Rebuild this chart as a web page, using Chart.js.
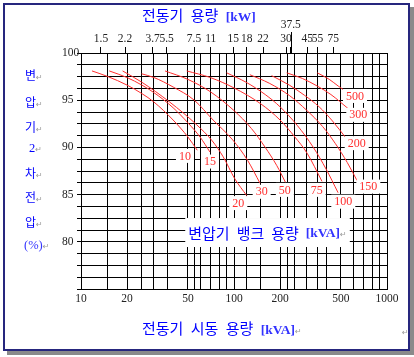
<!DOCTYPE html>
<html><head><meta charset="utf-8">
<script src="https://cdn.jsdelivr.net/npm/chart.js@4.4.1/dist/chart.umd.min.js"></script>
<style>
html,body{margin:0;padding:0;background:#fff;}
#wrap{position:relative;width:414px;height:357px;overflow:hidden;}
#frame{position:absolute;left:3px;top:3px;width:403px;height:344px;border:2px solid #26267e;box-shadow:4px 4px 0 #8a8a8a;background:#fff;}
#c{position:absolute;left:0;top:0;}
.t{position:absolute;white-space:nowrap;color:#0000ff;font-family:"Noto Sans CJK KR";font-size:15px;line-height:18px;word-spacing:4px;}
.en{font-family:"Liberation Serif";font-weight:bold;color:#3333ff;font-size:13.5px;word-spacing:0;}
.rt{color:#9a9a9a;font-family:"DejaVu Sans";font-size:8px;word-spacing:0;}
.v{position:absolute;white-space:nowrap;color:#0000ff;font-family:"Noto Sans CJK KR";font-size:12px;line-height:14px;}
.vs{font-family:"Liberation Serif";font-size:12.5px;}
</style></head>
<body><div id="wrap"><div id="frame"></div><canvas id="c" width="414" height="357"></canvas>
<div class="t" style="left:142px;top:6px">전동기 용량 <span class="en">[kW]</span></div>
<div class="t" style="left:142px;top:319px">전동기 시동 용량 <span class="en">[kVA]</span><span class="rt">↵</span></div>
<div class="v" style="left:25px;top:68px">변<span class="rt">↵</span></div>
<div class="v" style="left:25px;top:95px">압<span class="rt">↵</span></div>
<div class="v" style="left:25px;top:120px">기<span class="rt">↵</span></div>
<div class="v vs" style="left:29px;top:141px">2<span class="rt">↵</span></div>
<div class="v" style="left:25px;top:166px">차<span class="rt">↵</span></div>
<div class="v" style="left:25px;top:190px">전<span class="rt">↵</span></div>
<div class="v" style="left:25px;top:215px">압<span class="rt">↵</span></div>
<div class="v vs" style="left:24px;top:238px;color:#3333ff">(%)<span class="rt">↵</span></div>
<div style="position:absolute;left:402px;top:328px;color:#9a9a9a;font-family:'DejaVu Sans';font-size:8px;">↵</div>
</div>
<script>
// ---- axes / grid values ----
const kvaGrid = [10,15,20,25,30,37,50,55,60,70,80,90,100,120,150,200,225,250,300,350,400,500,600,700,800,900,1000];
const kvaTickLabels = [10,20,50,100,200,500,1000];
const kwTickLabels = ['1.5','2.2','3.7','5.5','7.5','11','15','18','22','30','37.5','45','55','75'];
const kwTickKva = [13.5,19.4,29.4,36.3,54.8,70.4,98.9,121,155,219,235,301,352,446];
const pctGrid = [75,76.25,77.5,78.75,80,81.25,82.5,83.75,85,86.25,87.5,88.75,90,91.25,92.5,93.75,95,96.25,97.5,98.75,100];
const pctTickLabels = [80,85,90,95,100];

// ---- curves: transformer bank capacity [kVA] ----
const curveNames = ['10','15','20','30','50','75','100','150','200','300','500'];
const kva_10  = [11.8,15,20,25,30,40,50,57.5];
const pct_10  = [98.1,97.5,96.6,95.7,94.8,92.9,91.1,89.7];
const kva_15  = [15.3,20,25,30,40,50,60,69.7];
const pct_15  = [98.1,97.4,96.6,95.8,94.2,92.6,91.1,89.5];
const kva_20  = [18.7,25,38,57,72,85,101,121];
const pct_20  = [98.1,96.9,94.8,92.4,90.7,89.0,86.7,84.9];
const kva_30  = [24.9,30,40,55,73,98,123,148];
const pct_30  = [97.8,97.4,96.4,95.0,92.9,90.8,88.6,86.2];
const kva_50  = [35.4,50,70,100,130,160,190,217];
const pct_50  = [98.1,97.2,95.9,93.9,92.0,90.0,88.1,86.3];
const kva_75  = [49.1,70,100,150,200,250,300,376];
const pct_75  = [98.1,97.4,96.3,94.6,92.9,91.1,89.4,86.4];
const kva_100 = [89.5,120,160,200,260,330,400,479];
const pct_100 = [97.9,96.9,95.6,94.3,92.3,90.0,87.7,85.2];
const kva_150 = [127,170,230,300,380,460,550,646];
const pct_150 = [97.7,96.8,95.5,93.9,92.2,90.4,88.4,86.3];
const kva_200 = [176,230,290,360,440,545];
const pct_200 = [97.6,96.6,95.5,94.3,92.8,90.9];
const kva_300 = [221,280,350,430,558];
const pct_300 = [97.9,97.3,96.5,95.6,94.1];
const kva_500 = [350,420,480,531];
const pct_500 = [97.9,97.2,96.5,96.0];

// label anchors (data coordinates)
const labelKva = [47.8,69.7,106.7,151.7,215,347,518,755,634,649,618];
const labelPct = [89.1,88.5,84.1,85.3,85.5,85.5,84.25,85.85,90.45,93.45,95.45];
const noteText = ['변압기','뱅크','용량','[kVA]'];
const noteKva = 165.6, notePct = 80.93;

const kvaSeries = [kva_10,kva_15,kva_20,kva_30,kva_50,kva_75,kva_100,kva_150,kva_200,kva_300,kva_500];
const pctSeries = [pct_10,pct_15,pct_20,pct_30,pct_50,pct_75,pct_100,pct_150,pct_200,pct_300,pct_500];

const RED = '#ff2e2e';
const datasets = curveNames.map((n,i)=>({
  label: n,
  data: kvaSeries[i].map((v,j)=>({x:v, y:pctSeries[i][j]})),
  borderColor: RED, borderWidth: 1, pointRadius: 0, fill: false,
  cubicInterpolationMode: 'monotone', xAxisID: 'x', yAxisID: 'y'
}));

const serif = '"Liberation Serif", "Times New Roman", serif';

const annot = {
  id: 'annot',
  afterDatasetsDraw(chart){
    const ctx = chart.ctx, x = chart.scales.x, y = chart.scales.y, x2 = chart.scales.x2;
    ctx.save();
    const i375 = kwTickLabels.indexOf('37.5');
    const p = Math.round(x2.getPixelForValue(kwTickKva[i375])) + 0.5;
    ctx.strokeStyle = '#000'; ctx.lineWidth = 1;
    ctx.beginPath(); ctx.moveTo(p, chart.chartArea.top); ctx.lineTo(p, chart.chartArea.top - 21); ctx.stroke();
    ctx.font = '12px ' + serif;
    ctx.textAlign = 'center'; ctx.textBaseline = 'middle';
    curveNames.forEach((t,i)=>{
      const px = x.getPixelForValue(labelKva[i]), py = y.getPixelForValue(labelPct[i]);
      const w = ctx.measureText(t).width;
      ctx.fillStyle = '#fff'; ctx.fillRect(px - w/2 - 3, py - 7, w + 6, 14);
      ctx.fillStyle = RED; ctx.fillText(t, px, py + 0.5);
    });
    const ko = '15px "Noto Sans CJK KR"', en = 'bold 13.5px ' + serif, sm = '8px "DejaVu Sans"';
    const gap = 7;
    const segs = noteText.map((t,i)=>({t, f: i===3?en:ko}));
    segs.push({t:'↵', f: sm, c:'#9a9a9a'});
    let total = 0;
    segs.forEach((s,i)=>{ ctx.font = s.f; s.w = ctx.measureText(s.t).width; total += s.w + (i<3?gap:0); });
    const cx = x.getPixelForValue(noteKva), cy = y.getPixelForValue(notePct);
    let sx = cx - total/2;
    ctx.fillStyle = '#fff'; ctx.fillRect(sx - 3, cy - 15, total + 6, 29);
    ctx.textAlign = 'left';
    segs.forEach((s,i)=>{
      ctx.font = s.f; ctx.fillStyle = s.c || (i===3 ? '#3333ff' : '#0000ff');
      ctx.fillText(s.t, sx, cy + (i===4?2:0));
      sx += s.w + (i<3?gap:0);
    });
    ctx.restore();
  }
};

new Chart(document.getElementById('c'), {
  type: 'line',
  data: { datasets },
  plugins: [annot],
  options: {
    responsive: false, animation: false, devicePixelRatio: 1,
    layout: { padding: { left: 62, right: 27, top: 0, bottom: 0 } },
    plugins: { legend: { display: false }, tooltip: { enabled: false }, title: { display: false } },
    scales: {
      x: {
        type: 'logarithmic', position: 'bottom', min: 10, max: 1000,
        afterBuildTicks: s => { s.ticks = kvaGrid.map(v=>({value:v})); },
        afterFit: s => { s.height = 68; },
        grid: { color: '#000', lineWidth: 1, drawTicks: false },
        border: { color: '#000', width: 1 },
        ticks: { autoSkip: false, maxRotation: 0, minRotation: 0, padding: 3, color: '#222',
          font: { family: serif, size: 11.5 },
          callback: v => kvaTickLabels.includes(v) ? String(v) : '' }
      },
      x2: {
        type: 'logarithmic', position: 'top', min: 10, max: 1000,
        afterBuildTicks: s => { s.ticks = kwTickKva.map(v=>({value:v})); },
        afterFit: s => { s.height = 53; },
        grid: { drawOnChartArea: false, drawTicks: true, tickLength: 6, color: '#000', tickColor: '#000' },
        border: { color: '#000', width: 1 },
        ticks: { autoSkip: false, maxRotation: 0, minRotation: 0, padding: 1, color: '#222',
          font: { family: serif, size: 11.5 },
          callback: (v,i) => kwTickLabels[i] === '37.5' ? ['37.5',''] : kwTickLabels[i] }
      },
      y: {
        type: 'linear', position: 'left', min: 75, max: 100,
        afterBuildTicks: s => { s.ticks = pctGrid.map(v=>({value:v})); },
        afterFit: s => { s.width = 19; },
        grid: { color: '#000', lineWidth: 1, drawTicks: true, tickLength: 4, tickColor: '#000' },
        border: { color: '#000', width: 1 },
        ticks: { autoSkip: false, crossAlign: 'far', padding: 1, color: '#222',
          font: { family: serif, size: 11.5 },
          callback: v => pctTickLabels.includes(v) ? String(v) : '' }
      }
    }
  }
});
</script>
</body></html>
